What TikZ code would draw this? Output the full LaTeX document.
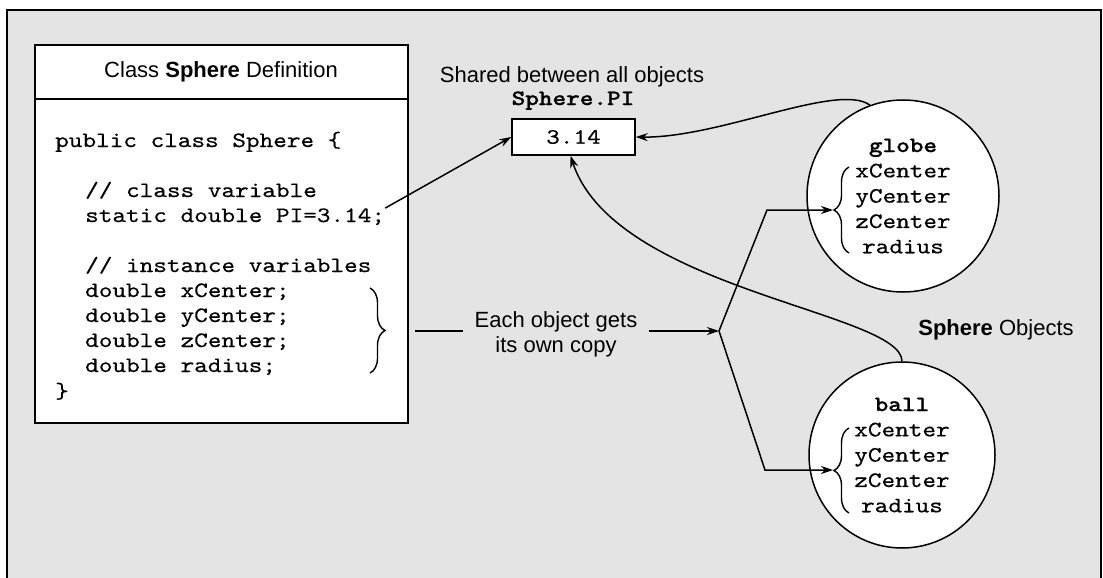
\documentclass[tikz,border=0pt]{standalone}
\usepackage{fontspec}
\setmainfont{Liberation Sans}
\setmonofont{lmmono10-regular.otf}[BoldFont=lmmonolt10-bold.otf,FakeStretch=1.18,FakeBold=0.4,BoldFeatures={FakeBold=0.8}]
\usetikzlibrary{arrows.meta,decorations.pathreplacing}
\definecolor{panelgray}{RGB}{228,228,228}
\tikzset{
  note/.style={font=\fontsize{22}{25}\selectfont},
  code/.style={anchor=base west,inner sep=0pt,font=\fontsize{22}{25.3}\selectfont\ttfamily},
  obj/.style={circle,draw,fill=white,line width=1.5pt,align=center,inner sep=0pt,font=\fontsize{22}{25.3}\selectfont\ttfamily},
  arr/.style={-{Stealth[length=12pt,width=8pt]},line width=1.5pt},
  curly/.style={decorate,decoration={brace,amplitude=15pt},line width=1.4pt}
}
\begin{document}
\begin{tikzpicture}[x=1pt,y=-1pt]
\useasboundingbox (0,0) rectangle (1103,578);
\draw[line width=2.2pt,fill=panelgray] (7,10) rectangle (1101,600);
% class definition
\draw[line width=1.7pt,fill=white] (35,45) rectangle (408,423);
\draw[line width=1.7pt] (35,99) -- (408,99);
\node[note] (title) at (221,72) {Class \textbf{Sphere} Definition};
\node[code] (ln1) at (55,147) {public class Sphere \{};
\node[code] (ln2) at (85,197) {// class variable};
\node[code] (ln3) at (85,222) {static double PI=3.14;};
\node[code] (ln4) at (85,272) {// instance variables};
\node[code] (ln5) at (85,297) {double xCenter;};
\node[code] (ln6) at (85,322) {double yCenter;};
\node[code] (ln7) at (85,347) {double zCenter;};
\node[code] (ln8) at (85,372) {double radius;};
\node[code] (ln9) at (55,398) {\}};
\draw[curly] (370,288) -- (370,373);
% shared value
\node[note,anchor=base] (shared) at (572,82) {Shared between all objects};
\node[code,anchor=base] (piname) at (573,105) {\textbf{Sphere.PI}};
\node[draw,fill=white,line width=1.5pt,minimum width=123pt,minimum height=36pt,inner sep=0pt,
  font=\fontsize{22}{25}\selectfont\ttfamily] (pibox) at (573.5,137) {3.14};
% objects
\node[obj,minimum size=192pt] (globe) at (903,196) {\textbf{globe}\\xCenter\\yCenter\\zCenter\\radius};
\node[obj,minimum size=186pt] (ball) at (902,455) {\textbf{ball}\\xCenter\\yCenter\\zCenter\\radius};
\draw[curly] (849,253) -- (849,167);
\draw[curly] (849,513) -- (849,428);
\node[note,anchor=base] (objtitle) at (996,335) {\textbf{Sphere} Objects};
\node[note,align=center,inner xsep=11pt] (copytxt) at (556,334) {Each object gets\\its own copy};
\coordinate (collect) at (415,331);
\coordinate (fork) at (719,331);
\coordinate (gtip) at (833,210);
\coordinate (btip) at (833,470);
% connectors
\draw[line width=1.5pt] (collect) -- (collect -| copytxt.west);
\draw[arr] (fork -| copytxt.east) -- (fork);
\draw[arr] (fork) -- (767,210) -- (gtip);
\draw[arr] (fork) -- (765,470) -- (btip);
\draw[arr] (ln3.north east) -- (pibox.west);
\draw[arr] (globe.110) .. controls (838,82) and (720,138) .. (pibox.east);
\draw[arr] (ball.north) .. controls (902,312) and (615,290) .. ([xshift=-3pt]pibox.south);
\end{tikzpicture}
\end{document}
